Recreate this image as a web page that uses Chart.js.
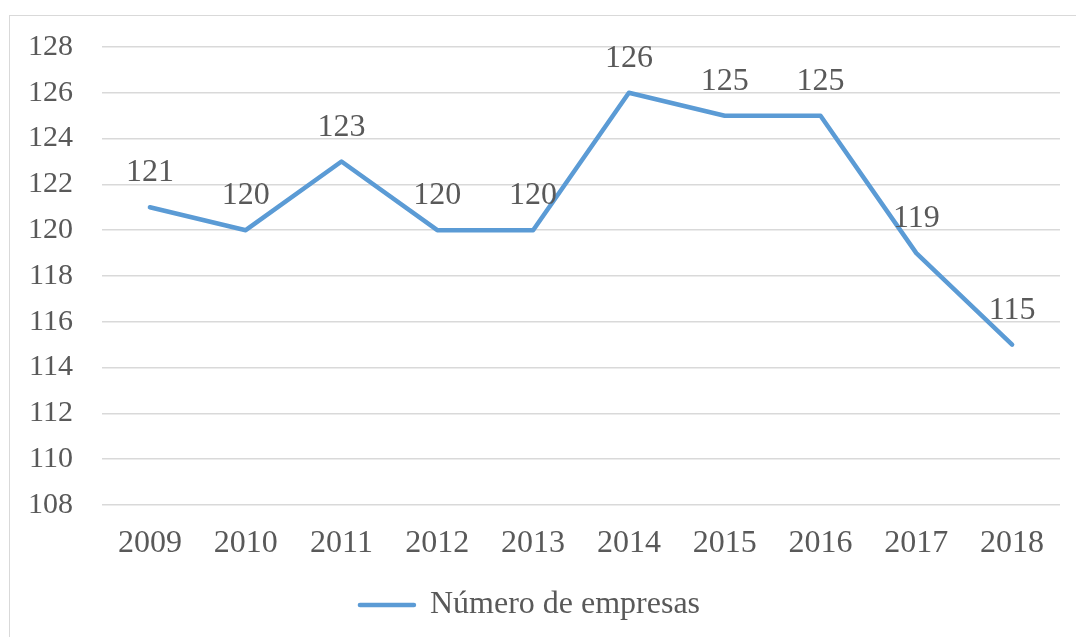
<!DOCTYPE html>
<html>
<head>
<meta charset="utf-8">
<script src="https://cdn.jsdelivr.net/npm/chart.js@4/dist/chart.umd.min.js"></script>
<style>
    html, body { margin: 0; padding: 0; background: #fff; }
    #wrap { position: relative; width: 1076px; height: 637px; overflow: hidden; }
    #frame { position: absolute; left: 9px; top: 15px; width: 1100px; height: 700px; border: 1px solid #d9d9d9; box-sizing: border-box; }
    #chart { position: absolute; left: 0; top: 0; }
</style>
</head>
<body>
<div id="wrap">
    <div id="frame"></div>
    <canvas id="chart" width="1076" height="637"></canvas>
</div>
<script>
// Data
const years = ['2009', '2010', '2011', '2012', '2013', '2014', '2015', '2016', '2017', '2018'];
const empresas = [121, 120, 123, 120, 120, 126, 125, 125, 119, 115];
const yMin = 108;
const yMax = 128;
const yStep = 2;

const textColor = '#595959';
const gridColor = '#d9d9d9';
const lineColor = '#5b9bd5';
const fontFamily = '"Liberation Serif", "Times New Roman", serif';
const fontSize = 32;
const yFontSize = 30;

// draws the value above each point
const valueLabels = {
    id: 'valueLabels',
    afterDatasetsDraw(chart) {
        const ctx = chart.ctx;
        const meta = chart.getDatasetMeta(0);
        ctx.save();
        ctx.font = fontSize + 'px ' + fontFamily;
        ctx.fillStyle = textColor;
        ctx.textAlign = 'center';
        ctx.textBaseline = 'alphabetic';
        meta.data.forEach((pt, i) => {
            ctx.fillText(String(chart.data.datasets[0].data[i]), pt.x, pt.y - 26);
        });
        ctx.restore();
    }
};

new Chart(document.getElementById('chart'), {
    type: 'line',
    data: {
        labels: years,
        datasets: [{
            label: 'Número de empresas',
            data: empresas,
            borderColor: lineColor,
            backgroundColor: lineColor,
            borderWidth: 4.5,
            borderCapStyle: 'round',
            borderJoinStyle: 'round',
            pointRadius: 0,
            tension: 0,
            fill: false
        }]
    },
    options: {
        responsive: false,
        animation: false,
        layout: { padding: { left: 0, right: 16, top: 46, bottom: 6 } },
        scales: {
            x: {
                offset: true,
                grid: { display: false, drawTicks: false },
                border: { display: false },
                ticks: { color: textColor, font: { family: fontFamily, size: fontSize }, padding: 19, maxRotation: 0 },
                afterFit(scale) { scale.height = 74; }
            },
            y: {
                min: yMin,
                max: yMax,
                grid: { color: gridColor, lineWidth: 1.5, drawTicks: false },
                border: { display: false },
                ticks: { stepSize: yStep, color: textColor, font: { family: fontFamily, size: yFontSize }, padding: 29 },
                afterFit(scale) { scale.width = 102; }
            }
        },
        plugins: {
            legend: {
                position: 'bottom',
                labels: {
                    usePointStyle: true,
                    pointStyle: 'line',
                    pointStyleWidth: 54,
                    color: textColor,
                    font: { family: fontFamily, size: fontSize },
                    padding: 10,
                    generateLabels(chart) {
                        const ds = chart.data.datasets[0];
                        return [{
                            text: ds.label,
                            strokeStyle: lineColor,
                            fillStyle: lineColor,
                            lineWidth: 4.5,
                            lineCap: 'round',
                            pointStyle: 'line',
                            fontColor: textColor,
                            datasetIndex: 0
                        }];
                    }
                }
            },
            tooltip: { enabled: false }
        }
    },
    plugins: [valueLabels]
});
</script>
</body>
</html>
